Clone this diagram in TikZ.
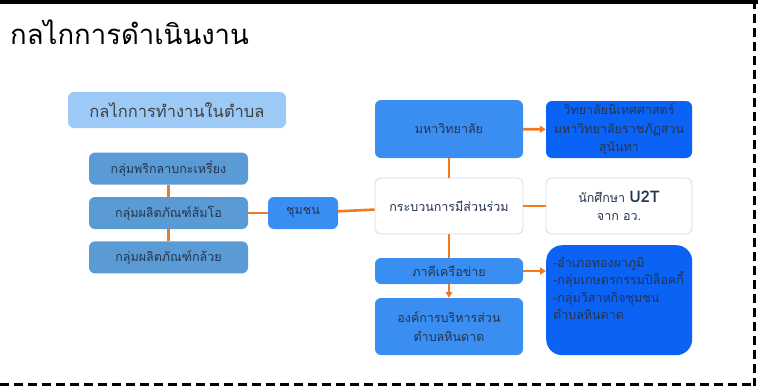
\documentclass[tikz,border=0pt]{standalone}
\usepackage{fontspec}
\newfontfamily\thaifont[Script=Thai]{Loma}
\usetikzlibrary{positioning,arrows.meta}
\definecolor{hdblue}{HTML}{9DC9F7}
\definecolor{grpblue}{HTML}{5B9BD5}
\definecolor{midblue}{HTML}{3A8EF2}
\definecolor{deepblue}{HTML}{0B63F6}
\definecolor{linkor}{HTML}{F07A20}
\definecolor{boxtxt}{HTML}{24344F}
\definecolor{edgegray}{HTML}{D5D9E3}

\tikzset{
  box/.style={rounded corners=6pt, inner sep=0pt, align=center, text=boxtxt,
    font=\thaifont\fontsize{12.5}{18.5}\selectfont},
  grpbox/.style={box, fill=grpblue, minimum width=159pt, minimum height=32pt},
  midbox/.style={box, fill=midblue, minimum width=148pt},
  deepbox/.style={box, fill=deepblue, minimum width=146pt},
  whitebox/.style={box, fill=white, draw=edgegray, line width=0.8pt, minimum width=146pt, minimum height=56pt},
  link/.style={draw=linkor, line width=2.6pt},
  linkarr/.style={link, -{Triangle[length=6pt,width=7pt]}}
}

\begin{document}
\begin{tikzpicture}[x=1pt, y=-1pt]
  \useasboundingbox (0,0) rectangle (758,386);
  % frame
  \draw[line width=4pt] (0,2) -- (758,2);
  \draw[line width=3pt, dash pattern=on 9pt off 5pt] (754.5,0) -- (754.5,386);
  \draw[line width=3pt, dash pattern=on 9pt off 5pt] (0,384.5) -- (754,384.5);

  \node[anchor=west, inner sep=0pt, font=\thaifont\fontsize{27.5}{30}\selectfont] (title) at (10,32) {กลไกการดำเนินงาน};
  \node[box, fill=hdblue, minimum width=218pt, minimum height=36pt, text=black!75,
        font=\thaifont\fontsize{16.5}{18}\selectfont] (hd) at (177,110) {กลไกการทำงานในตำบล};

  % left groups
  \node[grpbox] (g2) at (168.5,213) {กลุ่มผลิตภัณฑ์ส้มโอ};
  \node[grpbox, above = 12pt of g2] (g1) {กลุ่มพริกลาบกะเหรี่ยง};
  \node[grpbox, below = 12pt of g2] (g3) {กลุ่มผลิตภัณฑ์กล้วย};
  \node[box, fill=midblue, minimum width=70pt, minimum height=32pt] (cm) at (303,213) {ชุมชน};

  % middle column
  \node[midbox, minimum height=58pt] (mu) at (449,129) {มหาวิทยาลัย};
  \node[whitebox, minimum width=148pt] (pr) at (449,206) {กระบวนการมีส่วนร่วม};
  \node[midbox, minimum height=26pt] (pk) at (449,271) {ภาคีเครือข่าย};
  \node[midbox, minimum height=57pt] (ob) at (449,326.5) {องค์การบริหารส่วน\\ตำบลหินดาด};

  % right column
  \node[deepbox, minimum height=57pt] (ns) at (619,129.5) {วิทยาลัยนิเทศศาสตร์\\มหาวิทยาลัยราชภัฏสวน\\สุนันทา};
  \node[whitebox] (st) at (619,206) {นักศึกษา {\fontsize{16}{18}\selectfont\bfseries U2T}\\จาก อว.};
  \node[deepbox, minimum height=110pt, rounded corners=16pt, anchor=north west] (lst) at (546,245) {};
  \node[box, anchor=north west, align=left, font=\thaifont\fontsize{12.5}{17.5}\selectfont] (lsttxt)
        at ([xshift=7pt,yshift=-12pt]lst.north west)
        {-อำเภอทองผาภูมิ\\-กลุ่มเกษตรกรรมปิล็อคกี้\\-กลุ่มวิสาหกิจชุมชน\\ตำบลหินดาด};

  % connectors
  \draw[link] (g1) -- (g2);
  \draw[link] (g2) -- (g3);
  \draw[link] (g2) -- (cm);
  \draw[link] (cm) -- (pr);
  \draw[link] (mu) -- (pr);
  \draw[link] (pr) -- (st);
  \draw[link] (pr) -- (pk);
  \draw[linkarr] (mu) -- (ns);
  \draw[linkarr] (pk) -- (ob);
  \draw[linkarr] (pk.east) -- (lst.west |- pk.east);
\end{tikzpicture}
\end{document}
